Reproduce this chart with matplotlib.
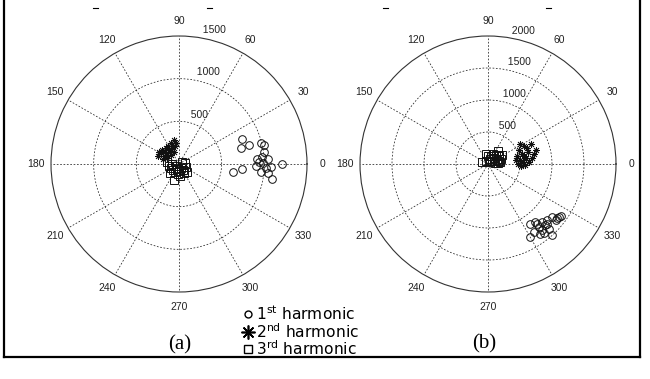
import numpy as np
import matplotlib
matplotlib.use("Agg")
import matplotlib.pyplot as plt
from matplotlib.lines import Line2D

plt.rcParams['font.family'] = ['Liberation Sans', 'DejaVu Sans']
plt.rcParams['mathtext.fontset'] = 'custom'
plt.rcParams['mathtext.rm'] = 'DejaVu Sans'
plt.rcParams['mathtext.it'] = 'DejaVu Sans'

# ---------------- data (magnitude, angle in degrees) ----------------
# (a)
a_h1_r = [797, 856, 757, 987, 1020, 911, 980, 1044, 905, 986, 1082, 1204,
          1016, 960, 1047, 1109, 640, 746, 936, 1000]
a_h1_t = [21.7, 15.2, 14.7, 14.3, 12.5, 3.5, 4.6, 3.0, -1.5, 0.5, -1.7, 0.0,
          -2.9, -5.4, -5.6, -9.4, -8.2, -4.8, 1.7, 8.0]
a_h2_r = [247, 262, 240, 240, 247, 262, 283, 200, 175, 192, 261, 157, 220,
          142, 268, 150, 208, 196, 247, 194]
a_h2_t = [150, 159, 140, 130, 120, 111, 102, 113, 128, 151, 140, 151, 102,
          131, 149, 114, 126, 141, 97, 162]
a_h3_r = [143, 120, 106, 100, 106, 198, 64, 83, 53, 85, 72, 90, 121, 43, 83,
          43, 119, 142, 150, 134]
a_h3_t = [170, 191, 207, 225, 243, 253, 248, 270, 297, 304, 10, 337, 299, 214,
          180, 34, 264, 275, 225, 315]
# (b)
b_h1_r = [1141, 1169, 1245, 1275, 1299, 1381, 1372, 1311, 1262, 1279, 1337,
          1385, 1499, 1318, 1386, 1396, 1311, 1205, 1376, 1361]
b_h1_t = [305.4, 309.3, 312.8, 316.5, 320.6, 323.3, 320.3, 313.2, 308.9, 303.9,
          309.3, 313.3, 312.0, 300.1, 309.0, 324.3, 314.8, 309.5, 321.8, 307.0]
b_h2_r = [473, 508, 474, 558, 536, 552, 606, 700, 658, 741, 634, 733, 521, 583,
          445, 664, 787, 581, 594, 647]
b_h2_t = [0, 7, 15, 16, 24, 3, 9, 8, 17, 12, 27, 25, -3.5, -1.5, 8, 22, 16,
          12.5, 32, 3]
b_h3_r = [160, 258, 135, 134, 155, 192, 79, 111, 85, 214, 176, 190, 219, 35,
          158, 126, 262, 106, 60, 100, 180]
b_h3_t = [101, 52, 69, 45, 24, 9.5, 37, 8, 68, 36, 63, 48, 21, 63, 3, 90, 33,
          27, 120, 160, 15]

a_rticks = [500, 1000, 1500]
b_rticks = [500, 1000, 1500, 2000]
angle_ticks = [0, 30, 60, 90, 120, 150, 180, 210, 240, 270, 300, 330]
legend_labels = ['1$^{\\mathrm{st}}$ harmonic', '2$^{\\mathrm{nd}}$ harmonic',
                 '3$^{\\mathrm{rd}}$ harmonic']
panel_labels = ['(a)', '(b)']

W, H = 650, 379
fig = plt.figure(figsize=(6.5, 3.79), dpi=100)

STAR = (8, 2, 0)


def make_polar(cx, cy, R, rticks, series):
    ax = fig.add_axes([(cx - R) / W, (H - cy - R) / H, 2 * R / W, 2 * R / H],
                      projection='polar')
    rmax = rticks[-1]
    ax.set_ylim(0, rmax)
    ax.set_yticks(rticks[:-1])
    ax.set_yticklabels([])
    ax.set_xticks(np.deg2rad(angle_ticks))
    ax.set_xticklabels([])
    ax.tick_params(length=0)
    ax.grid(True, color='#222222', linestyle=(0, (2.2, 2.2)), linewidth=0.55)
    ax.spines['polar'].set_color('#333333')
    ax.spines['polar'].set_linewidth(0.8)
    ax.set_facecolor('white')
    for a in angle_ticks:
        ax.text(np.deg2rad(a), rmax * 1.12, str(a), ha='center', va='center',
                fontsize=7.5, color='#222222')
    rinc = rticks[0]
    for r in rticks:
        ax.text(np.deg2rad(82), r + rinc / 20, '  ' + str(r), ha='left',
                va='bottom', fontsize=7.5, color='#222222')
    (r1, t1), (r2, t2), (r3, t3) = series
    ax.plot(np.deg2rad(t1), r1, linestyle='none', marker='o', ms=5.5,
            mfc='none', mec='#111111', mew=0.7, clip_on=False)
    ax.plot(np.deg2rad(t2), r2, linestyle='none', marker=STAR, ms=5,
            mec='#111111', mew=0.6, clip_on=False)
    ax.plot(np.deg2rad(t3), r3, linestyle='none', marker='s', ms=5.5,
            mfc='none', mec='#111111', mew=0.7, clip_on=False)
    return ax


make_polar(179, 164, 128, a_rticks,
           [(a_h1_r, a_h1_t), (a_h2_r, a_h2_t), (a_h3_r, a_h3_t)])
make_polar(488, 164, 128, b_rticks,
           [(b_h1_r, b_h1_t), (b_h2_r, b_h2_t), (b_h3_r, b_h3_t)])

# legend (text block between panels)
mark_y = [314, 331.5, 348.5]
base_y = [320, 337.5, 355]
leg_markers = [dict(marker='o', ms=5, mfc='none', mew=1.0),
               dict(marker=STAR, ms=10, mew=1.2),
               dict(marker='s', ms=5.5, mfc='none', mew=1.0)]
for my, by, lab, mk in zip(mark_y, base_y, legend_labels, leg_markers):
    fig.add_artist(Line2D([248 / W], [1 - my / H], transform=fig.transFigure,
                          linestyle='none', color='k', mec='k', **mk))
    fig.text(256 / W, 1 - by / H, lab, ha='left', va='baseline', fontsize=11.2,
             color='k', family='DejaVu Sans')

# panel labels
fig.text(180 / W, 1 - 345 / H, panel_labels[0], ha='center', va='center',
         fontsize=15, family='Liberation Serif')
fig.text(484 / W, 1 - 344 / H, panel_labels[1], ha='center', va='center',
         fontsize=15, family='Liberation Serif')

# frame lines
fig.add_artist(Line2D([4 / W, 4 / W], [1, 1 - 357 / H],
                      transform=fig.transFigure, color='k', lw=1.6))
fig.add_artist(Line2D([640 / W, 640 / W], [1, 1 - 357 / H],
                      transform=fig.transFigure, color='k', lw=1.6))
fig.add_artist(Line2D([4 / W, 640 / W], [1 - 357 / H, 1 - 357 / H],
                      transform=fig.transFigure, color='k', lw=1.6))

# small remnant dashes at top
for x in [95, 209, 385, 548]:
    fig.add_artist(Line2D([(x - 2.5) / W, (x + 2.5) / W], [1 - 7.5 / H] * 2,
                          transform=fig.transFigure, color='k', lw=0.8))

fig.savefig('out.png', dpi=100, facecolor='white')
